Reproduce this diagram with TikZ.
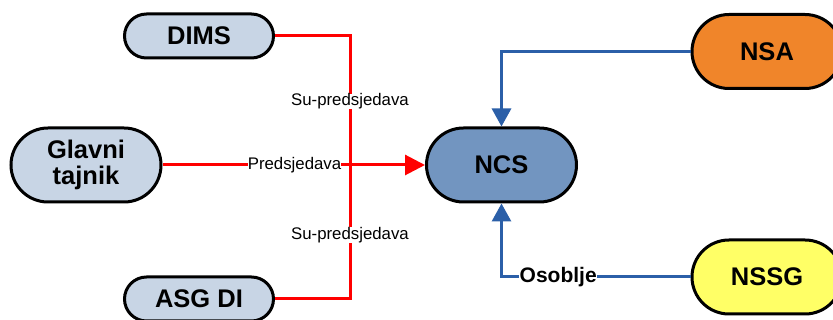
\documentclass[tikz,border=0pt]{standalone}
\usepackage{fontspec}
\setmainfont{Liberation Sans}
\usetikzlibrary{arrows.meta}
\definecolor{lightbox}{HTML}{C8D5E5}
\definecolor{ncsfill}{HTML}{7295C0}
\definecolor{nsafill}{HTML}{F0852A}
\definecolor{nssgfill}{HTML}{FFFF66}
\definecolor{redline}{HTML}{FF0000}
\definecolor{blueline}{HTML}{2B5FA8}
\tikzset{
  pill/.style={draw=black, line width=3pt, fill=#1, inner sep=0pt, align=center,
    font=\bfseries\fontsize{25.5}{25.5}\selectfont},
  smallpill/.style={pill=#1, minimum width=149pt, minimum height=44pt, rounded corners=22pt},
  bigpill/.style={pill=#1, minimum width=150pt, minimum height=74pt, rounded corners=37pt},
  redconn/.style={draw=redline, line width=3pt},
  blueconn/.style={draw=blueline, line width=3pt},
  lbl/.style={fill=white, inner sep=0pt, font=\fontsize{16.8}{16.8}\selectfont},
  boldlbl/.style={fill=white, inner sep=0.5pt, font=\bfseries\fontsize{21}{21}\selectfont},
  redtip/.style={-{Triangle[length=20pt,width=20pt]}},
  bluetip/.style={-{Triangle[length=18pt,width=19pt]}}
}
\begin{document}
\begin{tikzpicture}[x=1pt,y=-1pt]
\useasboundingbox (0,0) rectangle (833,320);
\clip (0,0) rectangle (833,320);
\fill[white] (0,0) rectangle (833,320);
% nodes
\node[smallpill=lightbox] (dims) at (199,36) {DIMS};
\node[bigpill=lightbox] (glavni) at (86,165) {Glavni\\tajnik};
\node[smallpill=lightbox] (asg) at (199,299) {ASG DI};
\node[bigpill=ncsfill] (ncs) at (501.5,165) {NCS};
\node[bigpill=nsafill] (nsa) at (767,51.5) {NSA};
\node[bigpill=nssgfill] (nssg) at (767,277) {NSSG};
% red connectors
\coordinate (rt) at (350,36);
\coordinate (rb) at (350,299);
\draw[redconn] (glavni.east) -- (rt |- glavni.east);
\draw[redconn] (dims.east) -- (rt)
  -- node[lbl,pos=0.249] {Su-predsjedava}
     node[lbl,pos=0.757] {Su-predsjedava} (rb)
  -- (asg.east);
\draw[redconn,redtip] (glavni.east) -- node[lbl,pos=0.503] {Predsjedava} (ncs.west);
% blue connectors
\coordinate (bt) at (ncs.north |- nsa.west);
\coordinate (bb) at (ncs.south |- nssg.west);
\draw[blueconn,bluetip] (nsa.west) -- (bt) -- (ncs.north);
\draw[blueconn,bluetip] (nssg.west) -- node[boldlbl,pos=0.7] {Osoblje} (bb) -- (ncs.south);
\end{tikzpicture}
\end{document}
